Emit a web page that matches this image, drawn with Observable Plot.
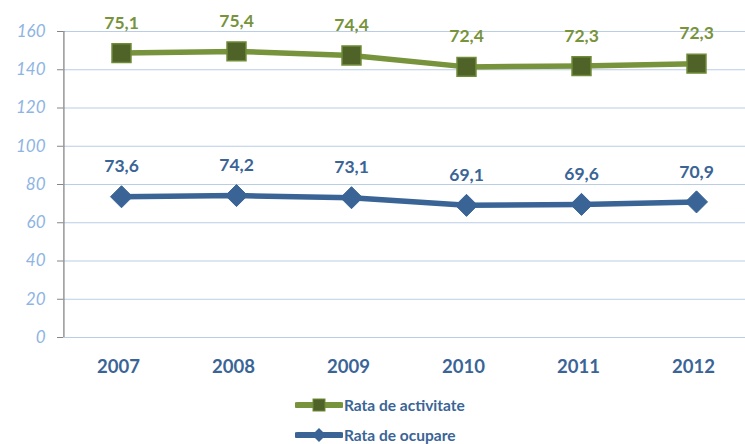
<!DOCTYPE html>
<html>
<head>
<meta charset="utf-8">
<script src="https://cdn.jsdelivr.net/npm/d3@7"></script>
<script src="https://cdn.jsdelivr.net/npm/@observablehq/plot@0.6"></script>
<style>
  body { margin: 0; background: #fff; font-family: Lato, "Open Sans", sans-serif; }
  #chart { position: relative; width: 745px; height: 444px; }
  .legend { position: absolute; left: 295px; top: 390px; }
  .legend .item { display: flex; align-items: center; height: 30px; }
  .legend span { font: bold 15.5px Lato, "Open Sans", sans-serif; color: #3A6496; margin-left: 1px; }
</style>
</head>
<body>
<div id="chart"></div>
<script>
const years = ["2007", "2008", "2009", "2010", "2011", "2012"];
const seriesNames = ["Rata de ocupare", "Rata de activitate"];
const ocupare = [73.6, 74.2, 73.1, 69.1, 69.6, 70.9];
const activitate = [75.1, 75.4, 74.4, 72.4, 72.3, 72.3];
const yTicks = [0, 20, 40, 60, 80, 100, 120, 140, 160];
const colors = {"Rata de ocupare": "#3A6496", "Rata de activitate": "#77933C"};

const data = [];
years.forEach((y, i) => {
  data.push({year: y, series: seriesNames[0], value: ocupare[i]});
  data.push({year: y, series: seriesNames[1], value: activitate[i]});
});

const diamond = {
  draw(ctx, size) {
    const s = Math.sqrt(size / 2);
    ctx.moveTo(0, -s); ctx.lineTo(s, 0); ctx.lineTo(0, s); ctx.lineTo(-s, 0); ctx.closePath();
  }
};

const fmt = v => d3.format(".1f")(v).replace(".", ",");
const stackOpts = {x: "year", y: "value", z: "series", order: seriesNames};

const chart = Plot.plot({
  width: 745,
  height: 390,
  marginLeft: 63,
  marginRight: 0,
  marginTop: 31,
  marginBottom: 53,
  style: {fontFamily: "Lato, 'Open Sans', sans-serif", background: "transparent"},
  x: {type: "point", domain: years, range: [120.6, 696.6], padding: 0},
  y: {domain: [0, 160]},
  marks: [
    Plot.gridY(yTicks, {stroke: "#B9CDE5", strokeOpacity: 1, strokeWidth: 1}),
    Plot.ruleX([years[0]], {dx: -57.6, y1: 0, y2: 160, stroke: "#868686", strokeWidth: 1.3}),
    Plot.axisY(yTicks, {tickSize: 6, tickPadding: 12, stroke: "#868686", fill: "#8EB4E3", fontSize: 17, fontStyle: "italic", label: null}),
    Plot.axisX({tickSize: 0, tickPadding: 22, fill: "#3A6496", fontSize: 18.5, fontWeight: "bold", label: null, dx: -3}),
    Plot.line(data, Plot.stackY2({...stackOpts, stroke: d => colors[d.series], strokeWidth: 5.5})),
    Plot.dot(data, Plot.filter(d => d.series === seriesNames[1], Plot.stackY2({...stackOpts, symbol: "square", r: 10.7, fill: "#4F6228", stroke: "#6F8C38", strokeWidth: 1.5}))),
    Plot.dot(data, Plot.filter(d => d.series === seriesNames[0], Plot.stackY2({...stackOpts, symbol: diamond, r: 8.8, fill: "#3A6496", stroke: "#3A6496", strokeWidth: 1}))),
    Plot.text(data, Plot.stackY2({...stackOpts, text: d => fmt(d.value), dy: -30, fill: d => colors[d.series], fontSize: 17.5, fontWeight: "bold"}))
  ]
});

const container = document.getElementById("chart");
container.appendChild(chart);

const legend = document.createElement("div");
legend.className = "legend";
const items = [
  {name: seriesNames[1], color: colors[seriesNames[1]], marker: "square"},
  {name: seriesNames[0], color: colors[seriesNames[0]], marker: "diamond"}
];
items.forEach(it => {
  const row = document.createElement("div");
  row.className = "item";
  const svg = d3.create("svg").attr("width", 48).attr("height", 30);
  svg.append("line").attr("x1", 2).attr("x2", 46).attr("y1", 15).attr("y2", 15)
    .attr("stroke", it.color).attr("stroke-width", 6).attr("stroke-linecap", "round");
  if (it.marker === "square") {
    svg.append("rect").attr("x", 18).attr("y", 9).attr("width", 12).attr("height", 12).attr("fill", "#4F6228").attr("stroke", "#6F8C38");
  } else {
    svg.append("path").attr("d", "M24,8 L31,15 L24,22 L17,15 Z").attr("fill", it.color);
  }
  row.appendChild(svg.node());
  const label = document.createElement("span");
  label.textContent = it.name;
  row.appendChild(label);
  legend.appendChild(row);
});
container.appendChild(legend);
</script>
</body>
</html>
